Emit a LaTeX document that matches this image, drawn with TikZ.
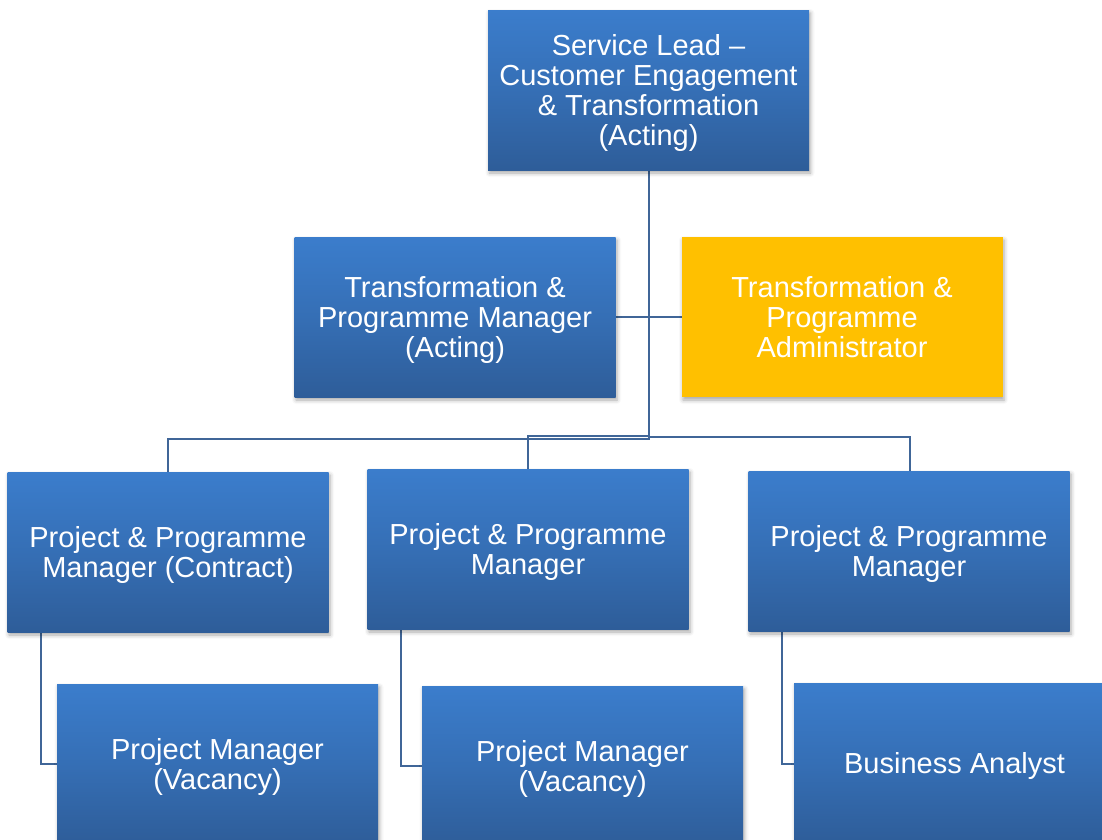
\documentclass[tikz,border=0pt]{standalone}
\usepackage{fontspec}
\setmainfont{Liberation Sans}
\usetikzlibrary{shadows.blur}

\definecolor{boxtop}{RGB}{59,125,204}
\definecolor{boxbottom}{RGB}{46,93,153}
\definecolor{adminfill}{RGB}{255,192,0}
\definecolor{linkblue}{RGB}{64,102,152}

% fixed first-line height and last-line depth, so the caps sit centred
\newcommand\rolefirst{\rule{0pt}{28pt}}
\newcommand\rolelast{\rule[-7.2pt]{0pt}{0pt}}

\tikzset{
  role/.style={
    rectangle, minimum width=321pt, minimum height=160pt, inner sep=0pt,
    align=center, text=white,
    font=\fontsize{29}{30}\selectfont,
    blur shadow={shadow xshift=1.5pt, shadow yshift=-3pt,
                 shadow blur radius=4pt, shadow opacity=35},
  },
  bluerole/.style={role, top color=boxtop, bottom color=boxbottom,
                   middle color=boxtop!55!boxbottom},
  yellowrole/.style={role, fill=adminfill},
  link/.style={draw=linkblue, line width=2pt},
}

\begin{document}
\begin{tikzpicture}[x=1pt, y=-1pt]
  \useasboundingbox (0,0) rectangle (1102,839);
  \clip (0,0) rectangle (1102,839);

  % connector elbows
  \coordinate (busL) at (649,439);
  \coordinate (busM) at (649,436);
  \coordinate (busR) at (649,437);

  % lines first, boxes on top
  \path[link] (649,170) -- (busL) -- (168,439) -- (168,472);
  \path[link] (busM) -- (528,436) -- (528,469);
  \path[link] (busR) -- (910,437) -- (910,471);
  \path[link] (615,317) -- (682,317);
  \path[link] (41,632) |- (57,764);
  \path[link] (401,629) |- (422,766);
  \path[link] (782,631) |- (794,764);

  % top level
  \node[bluerole] (lead) at (648.5,90)
    {\rolefirst Service Lead --\\Customer Engagement\\\& Transformation\\(Acting)\rolelast};

  % second level
  \node[bluerole] (tpm) at (455,317)
    {\rolefirst Transformation \&\\Programme Manager\\(Acting)\rolelast};
  \node[yellowrole] (admin) at (842,317)
    {\rolefirst Transformation \&\\Programme\\Administrator\rolelast};

  % third level
  \node[bluerole] (ppmA) at (168,552)
    {\rolefirst Project \& Programme\\Manager (Contract)\rolelast};
  \node[bluerole] (ppmB) at (528,549)
    {\rolefirst Project \& Programme\\Manager\rolelast};
  \node[bluerole] (ppmC) at (909,551)
    {\rolefirst Project \& Programme\\Manager\rolelast};

  % fourth level
  \node[bluerole] (pmA) at (217.5,764)
    {\rolefirst Project Manager\\(Vacancy)\rolelast};
  \node[bluerole] (pmB) at (582.5,766)
    {\rolefirst Project Manager\\(Vacancy)\rolelast};
  \node[bluerole] (ba) at (954.5,763)
    {\rolefirst Business Analyst\rolelast};
\end{tikzpicture}
\end{document}
